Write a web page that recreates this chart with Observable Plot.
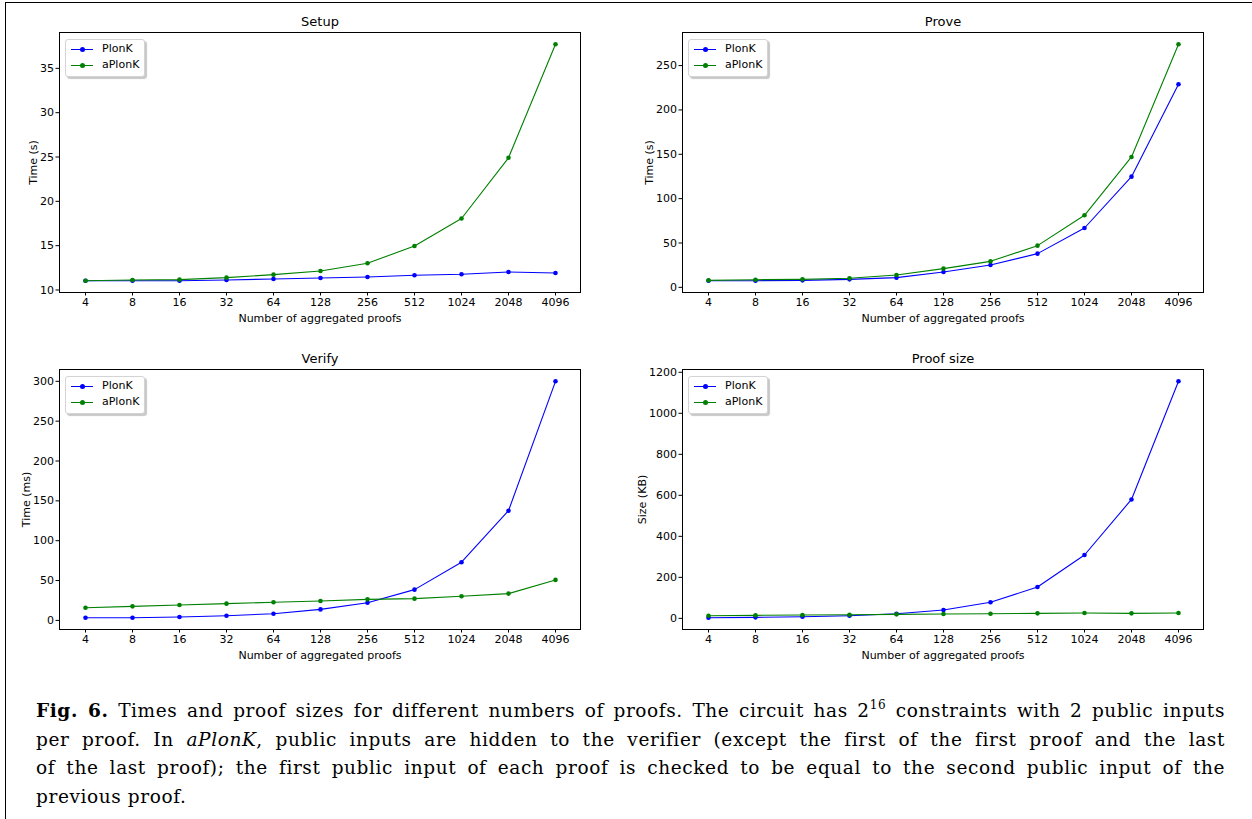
<!DOCTYPE html>
<html><head><meta charset="utf-8">
<script src="https://cdn.jsdelivr.net/npm/d3@7"></script>
<script src="https://cdn.jsdelivr.net/npm/@observablehq/plot@0.6"></script>
<style>
body{margin:0;background:#fff;}
#page{position:relative;width:1252px;height:819px;overflow:hidden;background:#fff;font-family:"DejaVu Sans";}
#border{position:absolute;left:5px;top:2px;width:1260px;height:830px;border-left:1.5px solid #000;border-top:1.5px solid #000;}
.panel{position:absolute;width:626px;height:335px;}
.panel svg{overflow:visible;}
.legend{position:absolute;width:78px;height:36px;background:#fff;border:1px solid #d4d4d4;border-radius:3px;box-shadow:2px 2px 1px rgba(0,0,0,0.22);font-size:11px;color:#000;}
.legend .row{position:absolute;left:0;height:14px;width:78px;}
.legend .sw{position:absolute;left:5px;top:6.5px;width:22px;height:1.4px;}
.legend .mk{position:absolute;left:13.5px;top:4.7px;width:5px;height:5px;border-radius:50%;}
.legend .lb{position:absolute;left:36px;top:0;line-height:14px;}
#caption{position:absolute;left:36px;top:697px;width:1189px;font-family:"DejaVu Serif";font-size:18.5px;line-height:28.7px;color:#000;letter-spacing:0.6px;}
#caption .ln{text-align:justify;text-align-last:justify;white-space:nowrap;}
#caption .ln.last{text-align-last:left;}
</style>
</head><body>
<div id="page"><div id="border"></div>
<div id="caption">
<div class="ln"><b>Fig. 6.</b> Times and proof sizes for different numbers of proofs. The circuit has 2<sup style="font-size:12px;line-height:0;vertical-align:8px">16</sup> constraints with 2 public inputs</div>
<div class="ln">per proof. In <i>aPlonK</i>, public inputs are hidden to the verifier (except the first of the first proof and the last</div>
<div class="ln">of the last proof); the first public input of each proof is checked to be equal to the second public input of the</div>
<div class="ln last">previous proof.</div>
</div>
</div>
<script>
const proofs = ["4","8","16","32","64","128","256","512","1024","2048","4096"];
const seriesNames = ["PlonK","aPlonK"];
const seriesColors = ["#0000ff","#008000"];

const setupPlonK  = [11.05,11.05,11.05,11.13,11.24,11.36,11.47,11.66,11.77,12.03,11.92];
const setupAPlonK = [11.05,11.13,11.17,11.39,11.73,12.15,13.01,14.97,18.06,24.91,37.71];
const provePlonK  = [7.5,7.5,7.9,9.0,10.9,17.3,25.2,38.0,66.9,124.8,228.9];
const proveAPlonK = [7.9,8.6,9.0,10.2,13.9,21.1,29.3,47.0,81.2,147.0,274.0];
const verifyPlonK  = [3.4,3.4,4.2,5.9,8.4,13.8,22.2,38.6,73.0,137.6,300.0];
const verifyAPlonK = [15.9,17.6,19.3,21.0,22.7,24.3,26.4,27.3,30.2,33.6,50.8];
const sizePlonK  = [3.3,4.9,8.1,13.0,22.8,40.7,78.2,153.0,309.0,580.0,1156.0];
const sizeAPlonK = [13.0,14.7,16.3,17.9,19.5,21.2,22.8,24.4,26.0,24.4,26.0];

const setupTicks  = [10,15,20,25,30,35];
const proveTicks  = [0,50,100,150,200,250];
const verifyTicks = [0,50,100,150,200,250,300];
const sizeTicks   = [0,200,400,600,800,1000,1200];

const titles = ["Setup","Prove","Verify","Proof size"];
const yLabels = ["Time (s)","Time (s)","Time (ms)","Size (KB)"];
const xLabel = "Number of aggregated proofs";

const panels = [
  {title:titles[0], ylabel:yLabels[0], a:setupPlonK, b:setupAPlonK, ticks:setupTicks, left:0, top:0, ml:59, mr:46, yl:26},
  {title:titles[1], ylabel:yLabels[1], a:provePlonK, b:proveAPlonK, ticks:proveTicks, left:626, top:0, ml:56, mr:49, yl:33},
  {title:titles[2], ylabel:yLabels[2], a:verifyPlonK, b:verifyAPlonK, ticks:verifyTicks, left:0, top:337, ml:59, mr:46, yl:33},
  {title:titles[3], ylabel:yLabels[3], a:sizePlonK, b:sizeAPlonK, ticks:sizeTicks, left:626, top:337, ml:56, mr:49, yl:40}
];

const page = document.getElementById("page");

function rows(vals){ return proofs.map((n,i)=>({n, v: vals[i]})); }

for (const p of panels) {
  const all = p.a.concat(p.b);
  const lo = d3.min(all), hi = d3.max(all), pad = 0.05*(hi-lo);
  const ra = rows(p.a), rb = rows(p.b);
  const centered = {lineAnchor: "middle", textAnchor: "middle"};
  const chart = Plot.plot({
    width: 626, height: 335,
    marginLeft: p.ml, marginRight: p.mr, marginTop: 32, marginBottom: 43,
    x: {type: "point", domain: proofs, padding: 0.5},
    y: {domain: [lo - pad, hi + pad]},
    style: {fontFamily: "DejaVu Sans", fontSize: "11px", color: "#000", background: "transparent", overflow: "visible"},
    marks: [
      Plot.axisX({tickSize: 3.5, tickPadding: 2, label: null}),
      Plot.axisY({ticks: p.ticks, tickFormat: d => String(d), tickSize: 3.5, tickPadding: 2, label: null}),
      Plot.line(ra, {x: "n", y: "v", stroke: seriesColors[0], strokeWidth: 1.1}),
      Plot.dot(ra, {x: "n", y: "v", fill: seriesColors[0], r: 2.3}),
      Plot.line(rb, {x: "n", y: "v", stroke: seriesColors[1], strokeWidth: 1.1}),
      Plot.dot(rb, {x: "n", y: "v", fill: seriesColors[1], r: 2.3}),
      Plot.frame({stroke: "#000", strokeWidth: 1}),
      Plot.text([p.title], {frameAnchor: "top", dy: -11, fontSize: 13, ...centered}),
      Plot.text([p.ylabel], {frameAnchor: "left", dx: -p.yl, rotate: -90, ...centered}),
      Plot.text([xLabel], {frameAnchor: "bottom", dy: 26, ...centered})
    ]
  });
  const div = document.createElement("div");
  div.className = "panel";
  div.style.left = p.left + "px";
  div.style.top = p.top + "px";
  div.appendChild(chart);
  const lg = document.createElement("div");
  lg.className = "legend";
  lg.style.left = (p.ml + 6) + "px";
  lg.style.top = "39px";
  seriesNames.forEach((name, i) => {
    const r = document.createElement("div");
    r.className = "row";
    r.style.top = (2 + i*16) + "px";
    r.innerHTML = `<div class="sw" style="background:${seriesColors[i]}"></div><div class="mk" style="background:${seriesColors[i]}"></div><div class="lb">${name}</div>`;
    lg.appendChild(r);
  });
  div.appendChild(lg);
  page.appendChild(div);
}
</script>
</body></html>
